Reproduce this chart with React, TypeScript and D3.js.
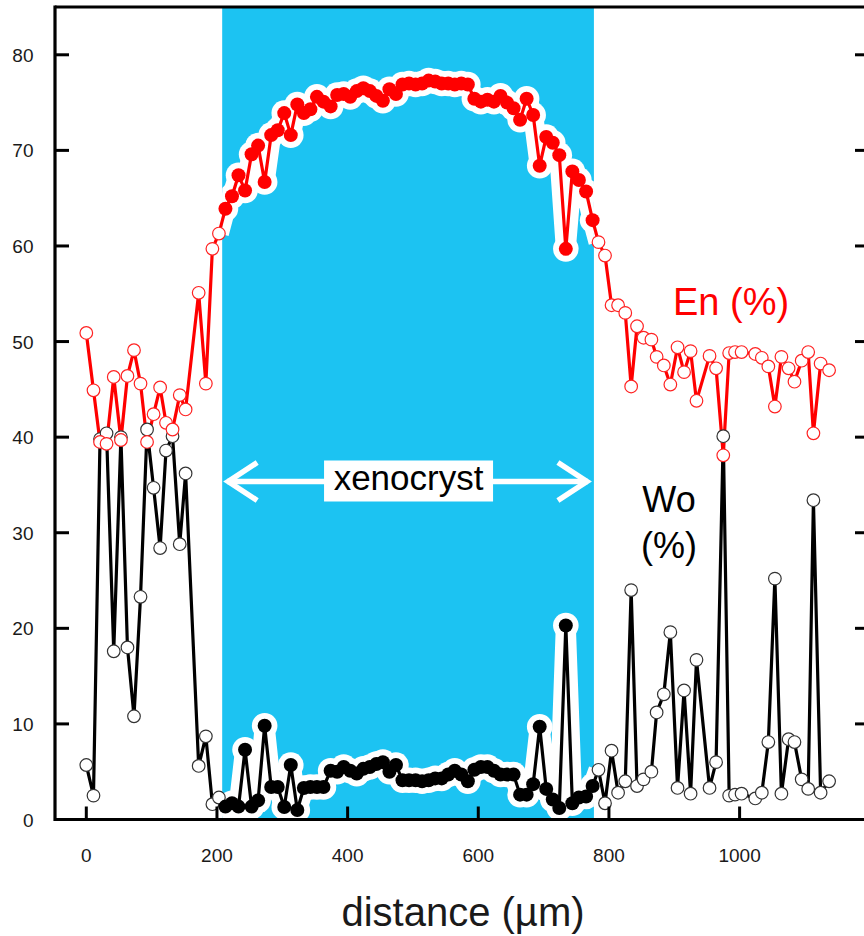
import React from 'react';
import * as d3 from 'd3';

// Microprobe traverse across a clinopyroxene: En and Wo contents (%) vs distance (µm)
const rimLeftDistance = [0, 11, 21, 31, 42, 53, 63, 73, 83, 93, 103, 113, 122, 132, 143, 152, 172, 183, 193, 203];
const rimLeftEn = [50.9, 44.9, 39.5, 39.3, 46.3, 39.7, 46.4, 49.1, 45.6, 39.5, 42.4, 45.2, 41.5, 40.8, 44.4, 42.9, 55.1, 45.6, 59.7, 61.3];
const rimLeftWo = [5.7, 2.5, 39.8, 40.4, 17.6, 40.0, 18.0, 10.8, 23.3, 40.8, 34.7, 28.4, 38.6, 40.1, 28.8, 36.2, 5.6, 8.7, 1.6, 2.3];

const coreDistance = [213, 223, 233, 243, 253, 263, 273, 283, 293, 303, 313, 323, 333, 343, 353, 363, 374, 384, 394, 404,
  414, 424, 434, 444, 454, 464, 474, 484, 494, 504, 514, 524, 534, 544, 554, 564, 574, 584, 594, 604,
  614, 624, 634, 644, 654, 664, 674, 684, 694, 704, 714, 724, 734, 744, 754, 765, 775];
const coreEn = [63.9, 65.2, 67.4, 65.8, 69.6, 70.5, 66.7, 71.6, 72.1, 73.9, 71.6, 74.8, 73.9, 74.3, 75.6, 75.1, 74.6, 75.8, 75.9, 75.6,
  76.2, 76.5, 76.2, 75.7, 75.2, 76.4, 75.9, 76.9, 77.0, 76.9, 77.0, 77.3, 77.2, 77.0, 77.0, 76.9, 77.0, 76.9, 75.4, 75.1,
  75.3, 75.1, 75.7, 75.0, 74.4, 73.2, 75.4, 73.7, 68.4, 71.4, 70.8, 69.5, 59.7, 67.8, 66.9, 65.7, 62.7];
const coreWo = [1.35, 1.7, 1.35, 7.3, 1.35, 2.0, 9.8, 3.4, 3.4, 1.3, 5.7, 1.0, 3.3, 3.4, 3.4, 3.4, 5.1, 5.0, 5.5, 5.1,
  4.8, 5.3, 5.5, 5.8, 6.0, 5.0, 5.7, 4.1, 4.1, 4.1, 4.0, 4.1, 4.3, 4.3, 4.7, 5.1, 4.7, 4.0, 5.2, 5.5,
  5.5, 5.1, 4.7, 4.7, 4.7, 2.6, 2.6, 3.7, 9.7, 3.2, 2.1, 1.2, 20.3, 1.7, 2.3, 2.4, 3.5];

const rimRightDistance = [784, 794, 804, 814, 825, 834, 843, 853, 865, 873, 884, 894, 905, 915, 925, 934, 954, 964, 975, 984,
  993, 1003, 1024, 1034, 1044, 1054, 1064, 1075, 1084, 1095, 1105, 1113, 1124, 1137];
const rimRightEn = [60.4, 59.0, 53.8, 53.8, 53.0, 45.3, 51.6, 50.4, 50.2, 48.4, 47.5, 45.5, 49.4, 46.8, 49.0, 43.8, 48.5, 47.2, 38.1, 48.8,
  48.9, 48.9, 48.7, 48.3, 47.4, 43.2, 48.4, 47.2, 45.8, 48.0, 48.9, 40.4, 47.7, 47.0];
const rimRightWo = [5.2, 1.7, 7.2, 2.8, 4.0, 24.0, 3.5, 4.2, 5.0, 11.2, 13.1, 19.6, 3.3, 13.5, 2.7, 16.7, 3.3, 6.0, 40.1, 2.5,
  2.6, 2.7, 2.2, 2.8, 8.1, 25.2, 2.7, 8.4, 8.1, 4.2, 3.2, 33.4, 2.8, 4.0];

const xTicks = [0, 200, 400, 600, 800, 1000];
const yTicks = [0, 10, 20, 30, 40, 50, 60, 70, 80];
const xenocrystRange = [208, 777];

type Pt = { d: number; v: number; core: boolean };

function buildSeries(left: number[], core: number[], right: number[]): Pt[] {
  return [
    ...rimLeftDistance.map((d, i) => ({ d, v: left[i], core: false })),
    ...coreDistance.map((d, i) => ({ d, v: core[i], core: true })),
    ...rimRightDistance.map((d, i) => ({ d, v: right[i], core: false })),
  ];
}

const enSeries = buildSeries(rimLeftEn, coreEn, rimRightEn);
const woSeries = buildSeries(rimLeftWo, coreWo, rimRightWo);

const W = 864;
const H = 936;
const plotLeft = 55;
const plotRight = 869;
const plotTop = 7;
const plotBottom = 819.5;

const x = d3.scaleLinear().domain([0, 1000]).range([86.3, 739.6]);
const y = d3.scaleLinear().domain([0, 85]).range([plotBottom, plotTop]);

const line = d3
  .line<Pt>()
  .x((p) => x(p.d))
  .y((p) => y(p.v));

const FONT = 'Liberation Sans, Arial, sans-serif';

function coreSlice(s: Pt[]): Pt[] {
  const first = s.findIndex((p) => p.core);
  let last = first;
  while (last + 1 < s.length && s[last + 1].core) last++;
  return s.slice(Math.max(0, first - 1), Math.min(s.length, last + 2));
}

function Halo({ series }: { series: Pt[] }) {
  const seg = coreSlice(series);
  return (
    <g clipPath="url(#bandClip)">
      <path d={line(seg) || ''} fill="none" stroke="#fff" strokeWidth={20} strokeLinejoin="round" />
      {series.filter((p) => p.core).map((p, i) => (
        <circle key={i} cx={x(p.d)} cy={y(p.v)} r={12.8} fill="#fff" />
      ))}
    </g>
  );
}

function Markers({ series, color, rimStroke }: { series: Pt[]; color: string; rimStroke: string }) {
  return (
    <g>
      {series.map((p, i) =>
        p.core ? (
          <circle key={i} cx={x(p.d)} cy={y(p.v)} r={7} fill={color} />
        ) : (
          <circle key={i} cx={x(p.d)} cy={y(p.v)} r={6.3} fill="#fff" stroke={rimStroke} strokeWidth={1.2} />
        )
      )}
    </g>
  );
}

export default function App() {
  const bx0 = x(xenocrystRange[0]);
  const bx1 = x(xenocrystRange[1]);
  const arrowY = 481.5;
  const a0 = bx0 + 5;
  const a1 = bx1 - 6;
  const labelCx = (bx0 + bx1) / 2 + 0.5;
  return (
    <svg width={W} height={H} style={{ position: 'absolute', left: 0, top: 0, background: '#fff' }}>
      <defs>
        <clipPath id="bandClip">
          <rect x={bx0} y={plotTop} width={bx1 - bx0} height={plotBottom - plotTop} />
        </clipPath>
      </defs>

      {/* xenocryst zone */}
      <rect x={bx0} y={plotTop} width={bx1 - bx0} height={plotBottom - plotTop} fill="#1CC3F2" />

      {/* double arrow and label */}
      <g stroke="#fff" strokeWidth={5.5} fill="none" strokeLinecap="butt">
        <line x1={a0} y1={arrowY} x2={a1} y2={arrowY} />
        <polyline points={`${a0 + 30},${arrowY - 19} ${a0 + 1},${arrowY} ${a0 + 30},${arrowY + 19}`} />
        <polyline points={`${a1 - 30},${arrowY - 19} ${a1 - 1},${arrowY} ${a1 - 30},${arrowY + 19}`} />
      </g>
      <rect x={labelCx - 84.5} y={460.5} width={169} height={41} fill="#fff" />
      <text x={labelCx} y={490} textAnchor="middle" fontFamily={FONT} fontSize={35} fill="#000">
        xenocryst
      </text>

      {/* white outline around core analyses */}
      <Halo series={enSeries} />
      <Halo series={woSeries} />

      {/* profiles */}
      <path d={line(woSeries) || ''} fill="none" stroke="#000" strokeWidth={3.2} />
      <path d={line(enSeries) || ''} fill="none" stroke="#FF0000" strokeWidth={3.2} />
      <Markers series={woSeries} color="#000" rimStroke="#333" />
      <Markers series={enSeries} color="#FF0000" rimStroke="#F22" />

      {/* frame */}
      <g stroke="#000" strokeWidth={3.2} fill="none">
        <line x1={plotLeft} y1={plotTop} x2={plotRight} y2={plotTop} />
        <line x1={plotLeft} y1={plotTop - 1.6} x2={plotLeft} y2={plotBottom + 1.6} />
        <line x1={plotLeft} y1={plotBottom} x2={plotRight} y2={plotBottom} />
        <line x1={plotRight} y1={plotTop} x2={plotRight} y2={plotBottom} />
      </g>
      <g stroke="#000" strokeWidth={3}>
        {yTicks.map((t) => (
          <g key={t}>
            <line x1={plotLeft} y1={y(t)} x2={plotLeft + 14} y2={y(t)} />
            <line x1={plotRight - 14} y1={y(t)} x2={plotRight} y2={y(t)} />
          </g>
        ))}
        {xTicks.map((t) => (
          <line key={t} x1={x(t)} y1={plotBottom} x2={x(t)} y2={plotBottom - 13} />
        ))}
      </g>
      <g fontFamily={FONT} fontSize={19} fill="#1a1a1a">
        {yTicks.map((t) => (
          <text key={t} x={33.5} y={y(t) + 7} textAnchor="end">
            {t}
          </text>
        ))}
        {xTicks.map((t) => (
          <text key={t} x={x(t)} y={861.5} textAnchor="middle">
            {t}
          </text>
        ))}
      </g>
      <text x={463} y={926} textAnchor="middle" fontFamily={FONT} fontSize={40} fill="#1a1a1a">
        distance (µm)
      </text>

      {/* series labels */}
      <text x={673} y={315} fontFamily={FONT} fontSize={38} fill="#FF0000">
        En (%)
      </text>
      <text x={669} y={511.5} textAnchor="middle" fontFamily={FONT} fontSize={36} fill="#000">
        Wo
      </text>
      <text x={669} y={557.5} textAnchor="middle" fontFamily={FONT} fontSize={36} fill="#000">
        (%)
      </text>
    </svg>
  );
}
